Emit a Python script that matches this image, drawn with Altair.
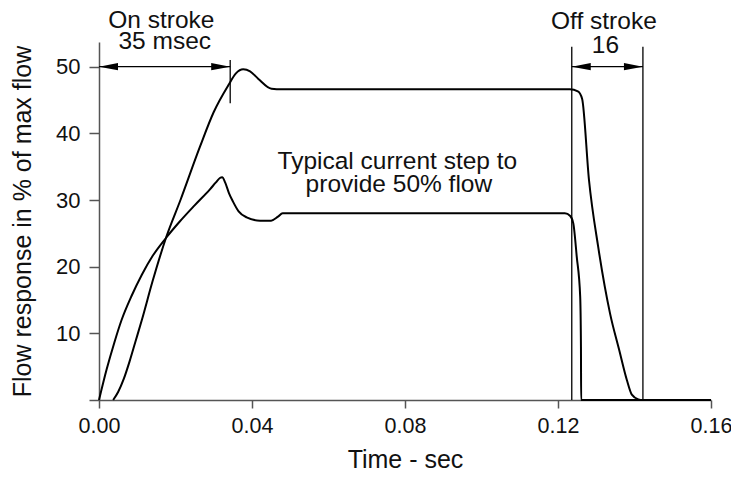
import altair as alt
import pandas as pd

# ---- data ----
upper_t = [0.0037, 0.0050, 0.0065, 0.0080, 0.0095, 0.0112, 0.0140, 0.0175, 0.0213, 0.0264,
           0.0300, 0.0338, 0.0358, 0.0377, 0.0395, 0.0416, 0.0451, 0.0478, 0.0800, 0.1231,
           0.1252, 0.1263, 0.1281, 0.1305, 0.1336, 0.1360, 0.1380, 0.1393, 0.1410, 0.1421, 0.1600]
upper_y = [0.0, 1.2, 3.2, 5.8, 8.7, 12.0, 17.8, 24.3, 30.0, 38.0,
           43.2, 47.2, 49.0, 49.6, 49.3, 48.2, 46.7, 46.6, 46.6, 46.6,
           46.3, 45.2, 33.0, 23.0, 13.0, 7.5, 3.0, 0.8, 0.1, 0.0, 0.0]

lower_t = [0.0000, 0.0020, 0.0040, 0.0059, 0.0085, 0.0112, 0.0140, 0.0175, 0.0210, 0.0250,
           0.0290, 0.0305, 0.0316, 0.0322, 0.0330, 0.0340, 0.0350, 0.0365, 0.0386, 0.0421,
           0.0450, 0.0468, 0.0480, 0.0500, 0.1218, 0.1232, 0.1240, 0.1249, 0.1258, 0.1260,
           0.12605, 0.1600]
lower_y = [0.0, 4.6, 8.6, 12.0, 15.6, 18.8, 21.6, 24.3, 26.7, 29.2,
           31.6, 32.6, 33.3, 33.4, 32.6, 31.0, 29.8, 28.3, 27.4, 26.9,
           26.9, 27.5, 28.0, 28.0, 28.0, 27.6, 26.5, 21.5, 15.5, 8.0,
           0.0, 0.0]

# dimension lines (x, y, x2, y2)
dim_x = [0.0, 0.0343, 0.1236, 0.1236, 0.1422]
dim_y = [50.0, 44.5, 50.0, 0.0, 0.0]
dim_x2 = [0.0343, 0.0343, 0.1422, 0.1236, 0.1422]
dim_y2 = [50.0, 51.0, 50.0, 53.0, 53.0]

# arrow heads (tip positions)
arrow_t = [0.0, 0.0343, 0.1236, 0.1422]
arrow_y = [50.0, 50.0, 50.0, 50.0]
arrow_dir = ["left", "right", "left", "right"]

# annotation texts
note_text = ["On stroke", "35 msec", "Off stroke", "16",
             "Typical current step to", "provide 50% flow"]
note_t = [0.0163, 0.0172, 0.1320, 0.1324, 0.0780, 0.0784]
note_y = [55.8, 52.7, 55.7, 52.1, 34.7, 31.2]

x_ticks = [0.0, 0.04, 0.08, 0.12, 0.16]
y_ticks = [0, 10, 20, 30, 40, 50]

FONT = "Liberation Sans"

curves = pd.concat([
    pd.DataFrame({"t": upper_t, "y": upper_y, "s": "upper"}),
    pd.DataFrame({"t": lower_t, "y": lower_y, "s": "lower"}),
])
dims = pd.DataFrame({"x": dim_x, "y": dim_y, "x2": dim_x2, "y2": dim_y2})
arrows = pd.DataFrame({"t": arrow_t, "y": arrow_y, "dir": arrow_dir})
notes = pd.DataFrame({"t": note_t, "y": note_y, "text": note_text})

xscale = alt.Scale(domain=[0, 0.16], nice=False)
yscale = alt.Scale(domain=[0, 53.7], nice=False)

xaxis = alt.Axis(values=x_ticks, format=".2f", title="Time - sec", grid=False,
                 labelFlush=False,
                 tickSize=8, labelFontSize=21.5, titleFontSize=25, titleFontWeight="normal",
                 labelFont=FONT, titleFont=FONT, labelColor="#111", titleColor="#111",
                 domainColor="#555", tickColor="#555", domainWidth=1.5, tickWidth=1.5,
                 labelPadding=7, titlePadding=11)
yaxis = alt.Axis(values=y_ticks, title="Flow response in % of max flow", grid=False,
                 labelExpr="datum.value == 0 ? '' : datum.label",
                 labelFlush=False,
                 tickSize=10, labelFontSize=22, titleFontSize=25, titleFontWeight="normal",
                 labelFont=FONT, titleFont=FONT, labelColor="#111", titleColor="#111",
                 domainColor="#555", tickColor="#555", domainWidth=1.5, tickWidth=1.5,
                 labelPadding=9, titlePadding=20)

base_curves = alt.Chart(curves).mark_line(
    interpolate="monotone", color="black", strokeWidth=2
).encode(
    x=alt.X("t:Q", scale=xscale, axis=xaxis),
    y=alt.Y("y:Q", scale=yscale, axis=yaxis),
    detail="s:N",
)

rules = alt.Chart(dims).mark_rule(color="black", strokeWidth=1.3).encode(
    x=alt.X("x:Q", scale=xscale), y=alt.Y("y:Q", scale=yscale),
    x2="x2:Q", y2="y2:Q",
)

head_left = alt.Chart(arrows).transform_filter(alt.datum.dir == "left").mark_point(
    filled=True, color="black", opacity=1, size=400,
    shape="M 0 0 L 1.9 -0.37 L 1.9 0.37 Z",
).encode(x=alt.X("t:Q", scale=xscale), y=alt.Y("y:Q", scale=yscale))

head_right = alt.Chart(arrows).transform_filter(alt.datum.dir == "right").mark_point(
    filled=True, color="black", opacity=1, size=400,
    shape="M 0 0 L -1.9 -0.37 L -1.9 0.37 Z",
).encode(x=alt.X("t:Q", scale=xscale), y=alt.Y("y:Q", scale=yscale))

texts = alt.Chart(notes).mark_text(
    font=FONT, fontSize=24.5, color="#111", align="center", baseline="alphabetic"
).encode(
    x=alt.X("t:Q", scale=xscale), y=alt.Y("y:Q", scale=yscale), text="text:N",
)

chart = alt.layer(base_curves, rules, head_left, head_right, texts).properties(
    width=612, height=358, autosize="none",
    padding={"left": 91, "top": 34, "right": 20, "bottom": 77},
).configure_view(stroke=None)

chart.save("out.html", embed_options={"renderer": "svg", "actions": False})
